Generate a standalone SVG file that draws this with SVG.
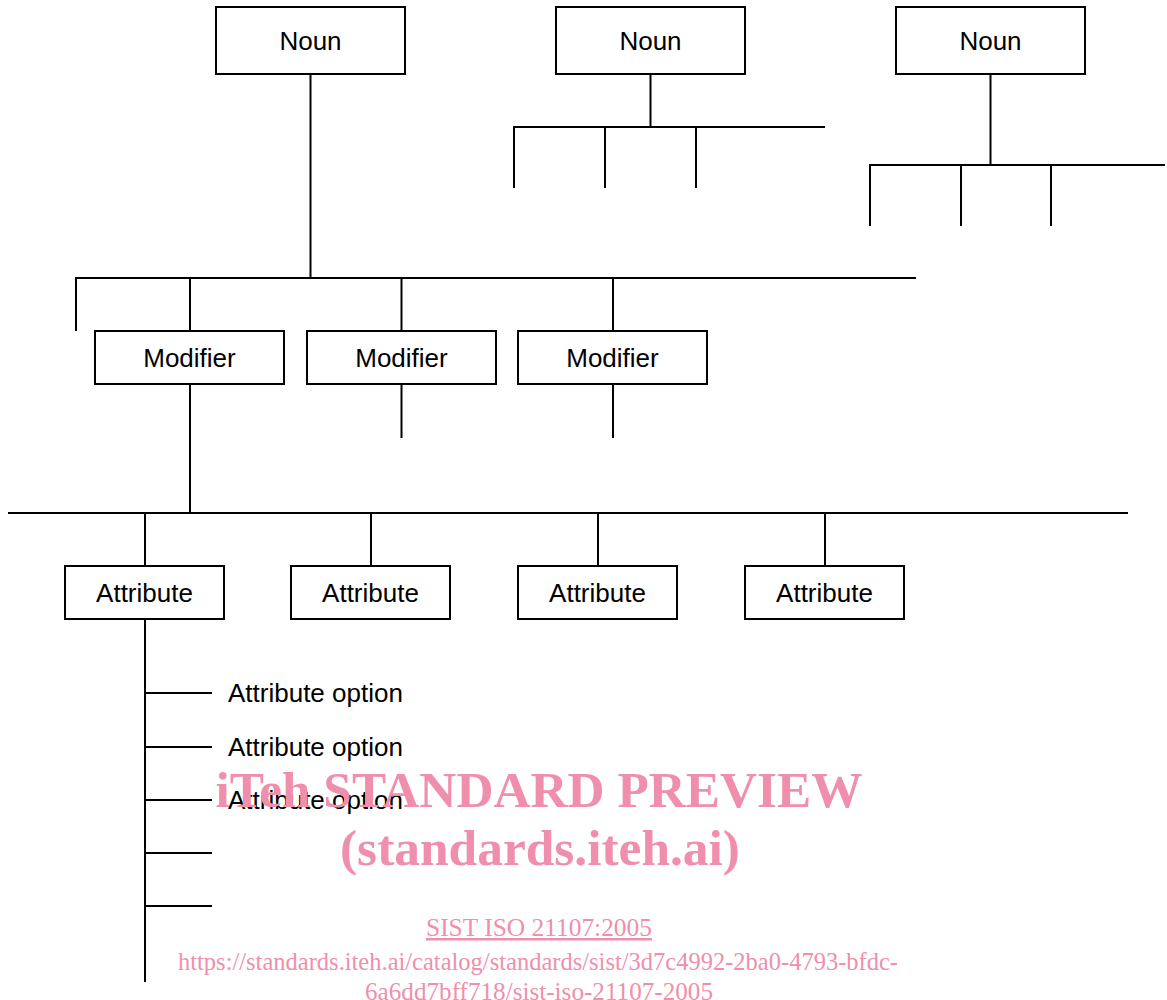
<svg xmlns="http://www.w3.org/2000/svg" width="1167" height="1000" viewBox="0 0 1167 1000">
<style>
.box{fill:#fff;stroke:#000;stroke-width:2}
.lbl{font-family:"Liberation Sans",Arial,sans-serif;font-size:26px;fill:#000;text-anchor:middle}
.opt{font-family:"Liberation Sans",Arial,sans-serif;font-size:26px;fill:#000}
.conn line{stroke:#000;stroke-width:2}
.wm{font-family:"Liberation Serif","Times New Roman",serif;fill:#ef8fab;text-anchor:middle}
</style>
<rect width="1167" height="1000" fill="#fff"/>
<g id="connectors" class="conn">
<line x1="310.5" y1="74" x2="310.5" y2="278"/>
<line x1="75" y1="278" x2="916" y2="278"/>
<line x1="76" y1="277" x2="76" y2="331"/>
<line x1="190" y1="278" x2="190" y2="331"/>
<line x1="401.5" y1="278" x2="401.5" y2="331"/>
<line x1="613" y1="278" x2="613" y2="331"/>
<line x1="401.5" y1="384" x2="401.5" y2="438"/>
<line x1="613" y1="384" x2="613" y2="438"/>
<line x1="190" y1="384" x2="190" y2="513"/>
<line x1="8" y1="513" x2="1128" y2="513"/>
<line x1="145" y1="513" x2="145" y2="566"/>
<line x1="371" y1="513" x2="371" y2="566"/>
<line x1="598" y1="513" x2="598" y2="566"/>
<line x1="825" y1="513" x2="825" y2="566"/>
<line x1="145" y1="619" x2="145" y2="982"/>
<line x1="145" y1="693" x2="212" y2="693"/>
<line x1="145" y1="747" x2="212" y2="747"/>
<line x1="145" y1="800" x2="212" y2="800"/>
<line x1="145" y1="853" x2="212" y2="853"/>
<line x1="145" y1="906" x2="212" y2="906"/>
<line x1="650.5" y1="74" x2="650.5" y2="127"/>
<line x1="513" y1="127" x2="825" y2="127"/>
<line x1="514" y1="126" x2="514" y2="188"/>
<line x1="605" y1="127" x2="605" y2="188"/>
<line x1="696" y1="127" x2="696" y2="188"/>
<line x1="990.5" y1="74" x2="990.5" y2="165"/>
<line x1="869" y1="165" x2="1165" y2="165"/>
<line x1="870" y1="164" x2="870" y2="226"/>
<line x1="961" y1="165" x2="961" y2="226"/>
<line x1="1051" y1="165" x2="1051" y2="226"/>
</g>
<g id="noun1"><rect class="box" x="216" y="7" width="189" height="67"/><text class="lbl" x="310.5" y="50">Noun</text></g>
<g id="noun2"><rect class="box" x="556" y="7" width="189" height="67"/><text class="lbl" x="650.5" y="50">Noun</text></g>
<g id="noun3"><rect class="box" x="896" y="7" width="189" height="67"/><text class="lbl" x="990.5" y="50">Noun</text></g>
<g id="modifier1"><rect class="box" x="95" y="331" width="189" height="53"/><text class="lbl" x="189.5" y="367">Modifier</text></g>
<g id="modifier2"><rect class="box" x="307" y="331" width="189" height="53"/><text class="lbl" x="401.5" y="367">Modifier</text></g>
<g id="modifier3"><rect class="box" x="518" y="331" width="189" height="53"/><text class="lbl" x="612.5" y="367">Modifier</text></g>
<g id="attribute1"><rect class="box" x="65" y="566" width="159" height="53"/><text class="lbl" x="144.5" y="601.5">Attribute</text></g>
<g id="attribute2"><rect class="box" x="291" y="566" width="159" height="53"/><text class="lbl" x="370.5" y="601.5">Attribute</text></g>
<g id="attribute3"><rect class="box" x="518" y="566" width="159" height="53"/><text class="lbl" x="597.5" y="601.5">Attribute</text></g>
<g id="attribute4"><rect class="box" x="745" y="566" width="159" height="53"/><text class="lbl" x="824.5" y="601.5">Attribute</text></g>
<g id="option1"><text class="opt" x="228" y="702">Attribute option</text></g>
<g id="option2"><text class="opt" x="228" y="756">Attribute option</text></g>
<g id="option3"><text class="opt" x="228" y="809">Attribute option</text></g>
<g id="watermark">
<text class="wm" x="539" y="807" font-size="51" font-weight="bold" textLength="647" lengthAdjust="spacingAndGlyphs">iTeh STANDARD PREVIEW</text>
<text class="wm" x="540" y="865" font-size="51" font-weight="bold" textLength="400" lengthAdjust="spacingAndGlyphs">(standards.iteh.ai)</text>
<text class="wm" x="539" y="936" font-size="25" text-decoration="underline" textLength="226" lengthAdjust="spacingAndGlyphs">SIST ISO 21107:2005</text>
<text class="wm" x="538" y="970" font-size="25" textLength="720" lengthAdjust="spacingAndGlyphs">https://standards.iteh.ai/catalog/standards/sist/3d7c4992-2ba0-4793-bfdc-</text>
<text class="wm" x="539" y="1000" font-size="25" textLength="348" lengthAdjust="spacingAndGlyphs">6a6dd7bff718/sist-iso-21107-2005</text>
</g>
</svg>
